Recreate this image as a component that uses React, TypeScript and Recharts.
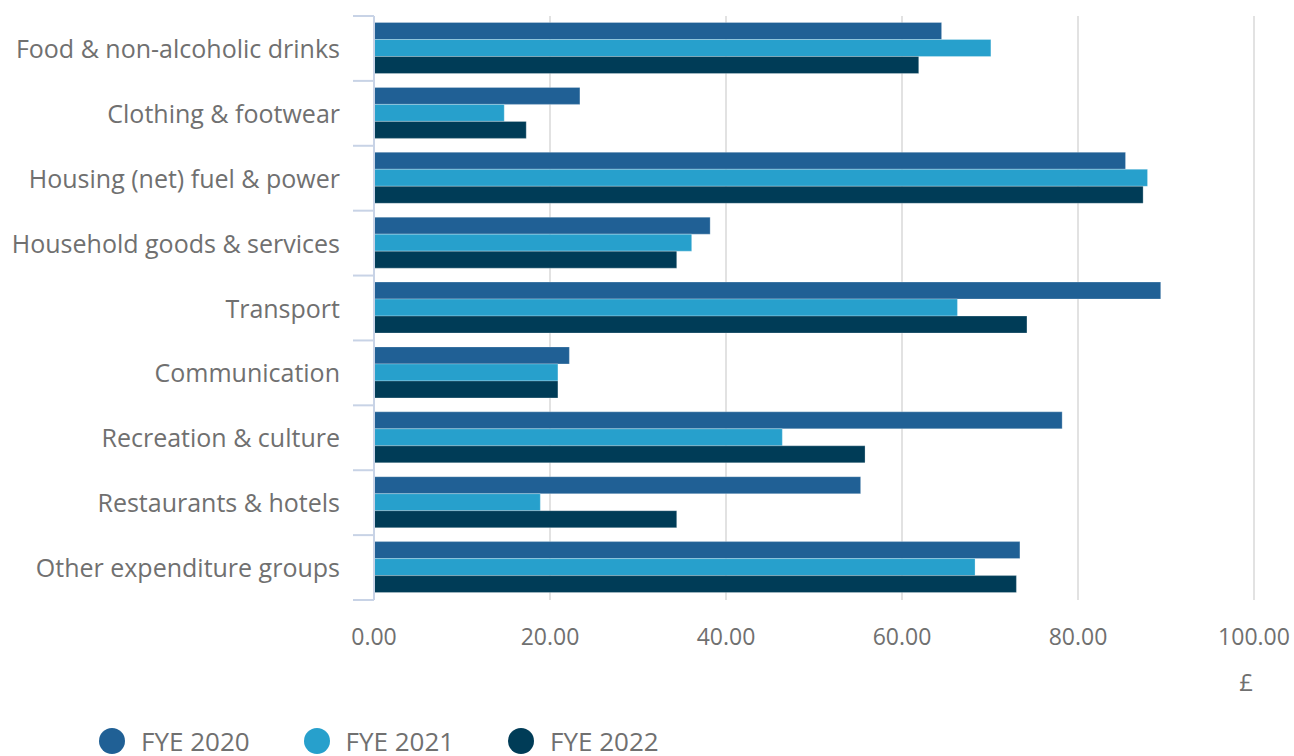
import React from 'react';
import { BarChart, Bar, XAxis, YAxis, CartesianGrid, Legend } from 'recharts';

const categories = [
  'Food & non-alcoholic drinks',
  'Clothing & footwear',
  'Housing (net) fuel & power',
  'Household goods & services',
  'Transport',
  'Communication',
  'Recreation & culture',
  'Restaurants & hotels',
  'Other expenditure groups',
];
const fye2020 = [64.5, 23.4, 85.4, 38.2, 89.4, 22.2, 78.2, 55.3, 73.4];
const fye2021 = [70.1, 14.8, 87.9, 36.1, 66.3, 20.9, 46.4, 18.9, 68.3];
const fye2022 = [61.9, 17.3, 87.4, 34.4, 74.2, 20.9, 55.8, 34.4, 73.0];
const xTicks = [0, 20, 40, 60, 80, 100];
const seriesNames = ['FYE 2020', 'FYE 2021', 'FYE 2022'];
const seriesKeys = ['fye2020', 'fye2021', 'fye2022'];
const colors = ['#206095', '#27a0cc', '#003c57'];

const data = categories.map((c, i) => ({
  name: c,
  fye2020: fye2020[i],
  fye2021: fye2021[i],
  fye2022: fye2022[i],
}));

const W = 1294;
const H = 756;
const MARGIN = { top: 16, right: 40, bottom: 0, left: 0 };
const XAXIS_H = 100;
const LEGEND_H = 56;
const PLOT_H = H - MARGIN.top - MARGIN.bottom - XAXIS_H - LEGEND_H;
const BAND = PLOT_H / categories.length;
const TEXT = '#707070';
const AXIS = '#c8d3e6';
const FONT = '"Open Sans", sans-serif';

const YTick = (props: any) => {
  const { x, y, payload, index } = props;
  const axisX = x + 14 + 20;
  return (
    <g>
      <line x1={axisX - 21} x2={axisX} y1={y - BAND / 2} y2={y - BAND / 2} stroke={AXIS} strokeWidth={2} />
      {index === categories.length - 1 && (
        <line x1={axisX - 21} x2={axisX} y1={y + BAND / 2} y2={y + BAND / 2} stroke={AXIS} strokeWidth={2} />
      )}
      <text x={x} y={y} dy="0.38em" textAnchor="end" fill={TEXT} fontSize={25} fontFamily={FONT}>
        {payload.value}
      </text>
    </g>
  );
};

const LegendContent = () => (
  <div style={{ display: 'flex', paddingLeft: 99, paddingTop: 28, fontFamily: FONT, fontSize: 26, color: TEXT, lineHeight: '26px' }}>
    {seriesNames.map((n, i) => (
      <div key={n} style={{ display: 'flex', alignItems: 'center', width: 204.5, flex: 'none' }}>
        <span style={{ display: 'inline-block', width: 26, height: 26, borderRadius: 13, background: colors[i], marginRight: 16, flex: 'none' }} />
        <span style={{ whiteSpace: 'nowrap' }}>{n}</span>
      </div>
    ))}
  </div>
);

const PoundLabel = (props: any) => {
  const vb = props.viewBox || {};
  return (
    <text x={vb.x + vb.width - 1} y={vb.y + 91} textAnchor="end" fill={TEXT} fontSize={24} fontFamily={FONT}>
      £
    </text>
  );
};

export default function App() {
  return (
    <div style={{ position: 'absolute', left: 0, top: 0 }}>
      <style>{'body{margin:0}'}</style>
      <BarChart
        width={W}
        height={H}
        data={data}
        layout="vertical"
        margin={MARGIN}
        barCategoryGap="10%"
        barGap={0}
      >
        <CartesianGrid horizontal={false} stroke="#e2e2e2" strokeWidth={2} />
        <XAxis
          type="number"
          domain={[0, 100]}
          ticks={xTicks}
          tickFormatter={(v: number) => v.toFixed(2)}
          axisLine={false}
          tickLine={false}
          height={XAXIS_H}
          tickMargin={23}
          tick={{ fill: TEXT, fontSize: 23, fontFamily: FONT }}
          label={<PoundLabel />}
        />
        <YAxis
          type="category"
          dataKey="name"
          width={374}
          axisLine={{ stroke: AXIS, strokeWidth: 2 }}
          tickLine={false}
          tickSize={20}
          tickMargin={14}
          tick={<YTick />}
          interval={0}
        />
        <Legend verticalAlign="bottom" height={LEGEND_H} content={<LegendContent />} />
        {seriesKeys.map((k, i) => (
          <Bar key={k} dataKey={k} name={seriesNames[i]} fill={colors[i]} stroke="#ffffff" strokeOpacity={0.25} isAnimationActive={false} />
        ))}
      </BarChart>
    </div>
  );
}
